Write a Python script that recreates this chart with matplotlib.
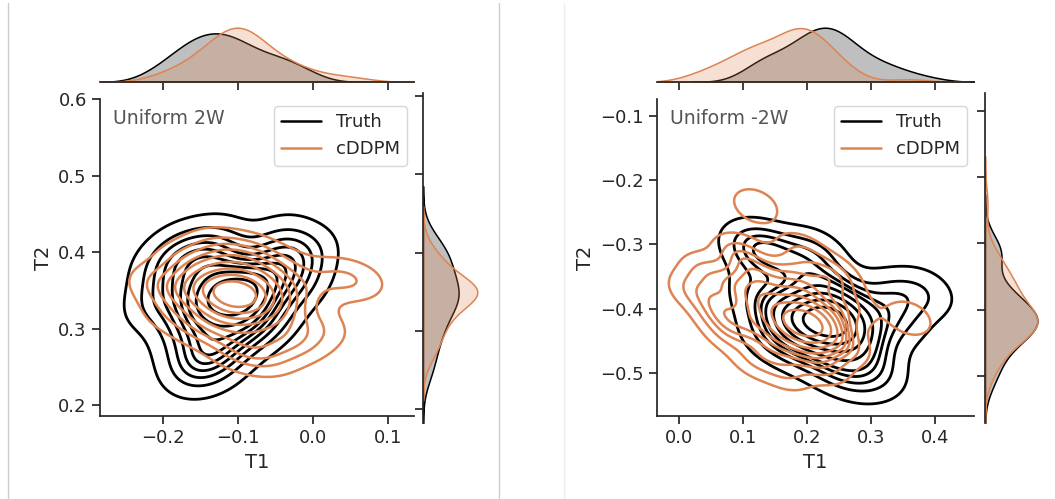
import matplotlib
matplotlib.use('Agg')
import seaborn as sns
from matplotlib import pyplot as plt
from matplotlib.lines import Line2D

sns.set_theme(style='ticks')
plt.rcParams['font.family'] = ['DejaVu Sans']
plt.rcParams['xtick.labelsize'] = 13
plt.rcParams['ytick.labelsize'] = 13
plt.rcParams['axes.labelsize'] = 14
plt.rcParams['legend.fontsize'] = 13

ORANGE = '#dd8452'
W, H = 1055, 499

# samples (T1, T2)
truth_2w_t1 = [-0.10, -0.11, -0.09, -0.10, -0.12, -0.09, -0.11,
               -0.14, -0.15, -0.16, -0.13, -0.17, -0.14, -0.15, -0.18, -0.13, -0.16,
               -0.19, -0.14, -0.17, -0.20, -0.12, -0.15, -0.18, -0.21, -0.13, -0.19,
               -0.16, -0.14, -0.12, -0.17, -0.22, -0.12,
               -0.08, -0.07, -0.09, -0.08, -0.10, -0.06, -0.11,
               -0.05, -0.03, -0.04, -0.02, -0.01, -0.05, 0.00, -0.03,
               -0.07, -0.05]
truth_2w_t2 = [0.345, 0.35, 0.34, 0.335, 0.345, 0.355, 0.33,
               0.36, 0.33, 0.38, 0.31, 0.35, 0.29, 0.40, 0.32, 0.39, 0.27,
               0.37, 0.26, 0.41, 0.34, 0.28, 0.24, 0.29, 0.38, 0.42, 0.40,
               0.31, 0.34, 0.37, 0.25, 0.33, 0.25,
               0.32, 0.36, 0.30, 0.38, 0.28, 0.34, 0.40,
               0.39, 0.41, 0.37, 0.39, 0.36, 0.42, 0.40, 0.35,
               0.30, 0.31]

ddpm_2w_t1 = [-0.10, -0.09, -0.11, -0.10, -0.12, -0.08, -0.10, -0.11, -0.09, -0.12, -0.08, -0.13,
              -0.14, -0.13, -0.07, -0.06, -0.11, -0.09, -0.15, -0.05, -0.12, -0.14, -0.07,
              -0.10, -0.16,
              -0.18, -0.21, -0.17, -0.13, -0.08, -0.04, -0.19, -0.15, -0.08, -0.06, -0.10,
              -0.03, -0.01, 0.01, 0.03, 0.06, -0.02, -0.04]
ddpm_2w_t2 = [0.345, 0.34, 0.35, 0.335, 0.34, 0.35, 0.355, 0.33, 0.36, 0.355, 0.33, 0.345,
              0.36, 0.32, 0.37, 0.34, 0.38, 0.31, 0.34, 0.35, 0.30, 0.38, 0.32,
              0.39, 0.36,
              0.35, 0.36, 0.39, 0.41, 0.40, 0.38, 0.32, 0.30, 0.28, 0.26, 0.27,
              0.32, 0.35, 0.30, 0.37, 0.36, 0.28, 0.29]

truth_m2w_t1 = [0.20, 0.21, 0.19, 0.22, 0.20, 0.23, 0.18, 0.24, 0.21, 0.25, 0.23, 0.25,
                0.24, 0.26, 0.17, 0.27, 0.23, 0.25, 0.16, 0.28, 0.19, 0.26, 0.29, 0.22,
                0.15, 0.24, 0.30,
                0.11, 0.13, 0.15, 0.13,
                0.12, 0.14, 0.26, 0.20, 0.22, 0.19,
                0.33, 0.36, 0.39, 0.34, 0.32, 0.31, 0.28]
truth_m2w_t2 = [-0.41, -0.40, -0.42, -0.42, -0.43, -0.41, -0.41, -0.43, -0.44, -0.41, -0.42, -0.43,
                -0.39, -0.44, -0.44, -0.42, -0.46, -0.37, -0.39, -0.45, -0.47, -0.48,
                -0.40, -0.37, -0.42, -0.50, -0.47,
                -0.31, -0.30, -0.31, -0.32,
                -0.38, -0.45, -0.41, -0.32, -0.31, -0.34,
                -0.38, -0.38, -0.37, -0.41, -0.43, -0.50, -0.51]

ddpm_m2w_t1 = [0.18, 0.19, 0.17, 0.20, 0.18, 0.21, 0.16, 0.19, 0.22, 0.17,
               0.14, 0.19, 0.22, 0.13, 0.23, 0.12, 0.20, 0.15, 0.24, 0.11, 0.18, 0.10,
               0.21, 0.20, 0.22,
               0.08, 0.04, 0.13, 0.09, 0.17, 0.06, 0.02, 0.19, 0.11, 0.14, 0.23,
               0.08, 0.12, 0.17, 0.23, 0.26, 0.06, 0.27, 0.25,
               0.12, 0.36]
ddpm_m2w_t2 = [-0.42, -0.43, -0.42, -0.42, -0.41, -0.43, -0.41, -0.44, -0.42, -0.44,
               -0.39, -0.39, -0.45, -0.43, -0.41, -0.40, -0.47, -0.46, -0.44, -0.37,
               -0.37, -0.42, -0.37, -0.41, -0.43,
               -0.36, -0.34, -0.35, -0.31, -0.34, -0.39, -0.37, -0.31, -0.33, -0.38,
               -0.34,
               -0.44, -0.48, -0.50, -0.49, -0.46, -0.41, -0.40, -0.36,
               -0.24, -0.415]

series_names = ['Truth', 'cDDPM']
panel_labels = ['Uniform 2W', 'Uniform -2W']


def rect(x0, y0, x1, y1):
    return [x0 / W, 1 - y1 / H, (x1 - x0) / W, (y1 - y0) / H]


fig = plt.figure(figsize=(W / 100, H / 100), dpi=100, facecolor='white')

# thin separators between the two images
for x, c in [(8, '#cccccc'), (499, '#cccccc'), (564, '#eeeeee')]:
    fig.add_artist(Line2D([x / W, x / W], [0, 1 - 3 / H], color=c, lw=1,
                          transform=fig.transFigure))


def draw_panel(boxes, truth, ddpm, xlim, ylim, side_ylim, xticks, yticks, label, bw=1.0):
    main = fig.add_axes(rect(*boxes[0]))
    top = fig.add_axes(rect(*boxes[1]))
    side = fig.add_axes(rect(*boxes[2]))

    sns.kdeplot(x=truth[0], y=truth[1], ax=main, color='black', linewidths=2)
    sns.kdeplot(x=ddpm[0], y=ddpm[1], ax=main, color=ORANGE, linewidths=1.8,
                bw_adjust=bw)
    main.set_xlim(xlim)
    main.set_ylim(ylim)
    main.set_xticks(xticks)
    main.set_yticks(yticks)
    main.set_xlabel('T1')
    main.set_ylabel('T2')
    sns.despine(ax=main)
    main.text(0.04, 0.94, label, transform=main.transAxes, color='#555555',
              va='center', ha='left', fontsize=13.6)
    handles = [Line2D([], [], color='black', lw=1.8),
               Line2D([], [], color=ORANGE, lw=1.8)]
    main.legend(handles, series_names, loc='upper right', handlelength=2.2,
                borderaxespad=0.4)

    for data, c in [(truth, 'black'), (ddpm, ORANGE)]:
        sns.kdeplot(x=data[0], ax=top, color=c, fill=True, alpha=0.25, linewidth=1.1)
        sns.kdeplot(y=data[1], ax=side, color=c, fill=True, alpha=0.25, linewidth=1.1)
    top.set_xlim(xlim)
    top.set_ylim(0, top.get_ylim()[1])
    top.set_xticks(xticks)
    top.tick_params(labelbottom=False, left=False, labelleft=False)
    top.set_ylabel('')
    sns.despine(ax=top, left=True)

    side.set_ylim(side_ylim)
    side.set_xlim(0, side.get_xlim()[1])
    side.set_yticks(yticks)
    side.tick_params(labelleft=False, bottom=False, labelbottom=False)
    side.set_xlabel('')
    sns.despine(ax=side, bottom=True)


draw_panel([(100, 99, 414, 416), (100, 25, 414, 82), (423, 93, 480, 423)],
           (truth_2w_t1, truth_2w_t2), (ddpm_2w_t1, ddpm_2w_t2),
           (-0.284, 0.135), (0.186, 0.6), (0.182, 0.604),
           [-0.2, -0.1, 0.0, 0.1], [0.2, 0.3, 0.4, 0.5, 0.6], panel_labels[0])

draw_panel([(657, 99, 974, 416), (657, 25, 974, 82), (985, 93, 1040, 423)],
           (truth_m2w_t1, truth_m2w_t2), (ddpm_m2w_t1, ddpm_m2w_t2),
           (-0.034, 0.4615), (-0.567, -0.074), (-0.571, -0.073),
           [0.0, 0.1, 0.2, 0.3, 0.4], [-0.5, -0.4, -0.3, -0.2, -0.1], panel_labels[1],
           bw=0.75)

fig.savefig('out.png', dpi=100)
